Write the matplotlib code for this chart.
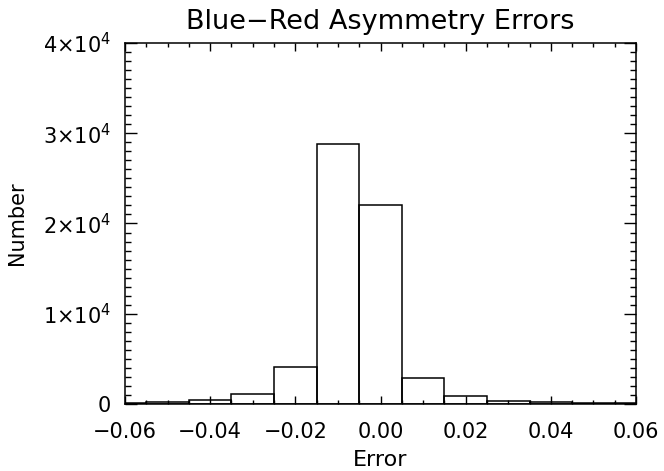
import numpy as np
import matplotlib.pyplot as plt
from matplotlib.ticker import MultipleLocator, FuncFormatter

# bin centres and counts
bin_centers = [-0.06, -0.05, -0.04, -0.03, -0.02, -0.01, 0.00,
               0.01, 0.02, 0.03, 0.04, 0.05, 0.06]
counts = [150, 200, 450, 1150, 4150, 28800, 22000,
          2850, 900, 350, 250, 100, 60]
bin_width = 0.01

x_ticks = [-0.06, -0.04, -0.02, 0.00, 0.02, 0.04, 0.06]
y_ticks = [0, 10000, 20000, 30000, 40000]


def x_fmt(v, pos):
    s = "%.2f" % v
    if s == "-0.00":
        s = "0.00"
    return s.replace("-", "\u2212")


def y_fmt(v, pos):
    if v == 0:
        return "0"
    return r"$%d{\times}10^{4}$" % round(v / 1e4)


fig = plt.figure(figsize=(6.64, 4.71), dpi=100)
ax = fig.add_axes([0.1883, 0.1423, 0.7695, 0.7664])

ax.bar(bin_centers, counts, width=bin_width, fill=False,
       edgecolor="black", linewidth=1.1, align="center")

ax.set_xlim(-0.06, 0.06)
ax.set_ylim(0, 40000)
ax.set_xticks(x_ticks)
ax.set_yticks(y_ticks)
ax.xaxis.set_major_formatter(FuncFormatter(x_fmt))
ax.yaxis.set_major_formatter(FuncFormatter(y_fmt))
ax.xaxis.set_minor_locator(MultipleLocator(0.005))
ax.yaxis.set_minor_locator(MultipleLocator(1000))

ax.tick_params(axis="both", which="both", direction="in",
               top=True, right=True, labelsize=15, width=1.0)
ax.tick_params(axis="x", which="major", length=6, pad=13)
ax.tick_params(axis="x", which="minor", length=3)
ax.tick_params(axis="y", which="major", length=8.5, pad=10)
ax.tick_params(axis="y", which="minor", length=4.5)
for s in ax.spines.values():
    s.set_linewidth(1.1)

ax.set_xlabel("Error", fontsize=16, labelpad=6)
ax.set_ylabel("Number", fontsize=15, labelpad=12)
ax.set_title("Blue\u2212Red Asymmetry Errors", fontsize=19.5, pad=10)

fig.savefig("out.png", dpi=100)
